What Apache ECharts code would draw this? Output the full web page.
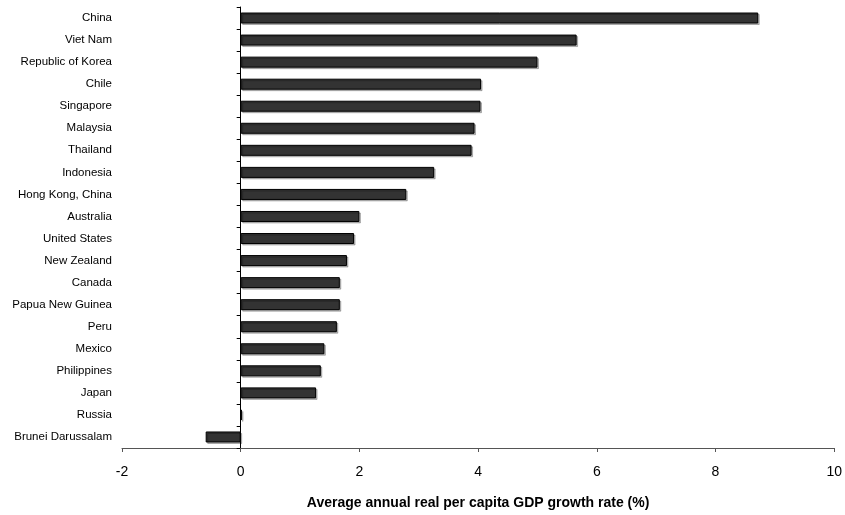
<!DOCTYPE html>
<html><head><meta charset="utf-8">
<script src="https://cdn.jsdelivr.net/npm/echarts@6/dist/echarts.min.js"></script>
<style>html,body{margin:0;padding:0;background:#fff}#c{width:845px;height:515px}</style>
</head><body><div id="c"></div>
<script>
const economies = ["China","Viet Nam","Republic of Korea","Chile","Singapore","Malaysia","Thailand","Indonesia","Hong Kong, China","Australia","United States","New Zealand","Canada","Papua New Guinea","Peru","Mexico","Philippines","Japan","Russia","Brunei Darussalam"];
const growth = [8.72,5.66,5.00,4.05,4.04,3.94,3.89,3.26,2.79,2.00,1.91,1.79,1.67,1.67,1.62,1.41,1.35,1.27,0.02,-0.59];
const xTicks = {min:-2,max:10,interval:2};
const xTitle = "Average annual real per capita GDP growth rate (%)";

const chart = echarts.init(document.getElementById('c'), null, {renderer:'canvas'});
chart.setOption({
  animation:false,
  grid:{left:122,right:5,top:7,bottom:64,containLabel:false},
  xAxis:{type:'value',min:xTicks.min,max:xTicks.max,interval:xTicks.interval,
    name:xTitle,nameLocation:'middle',nameGap:48,
    nameTextStyle:{fontFamily:'Liberation Sans, Arial',fontSize:14,fontWeight:'bold',color:'#000'},
    axisLine:{show:true,onZero:false,lineStyle:{color:'#555',width:1}},
    axisTick:{show:true,length:4,lineStyle:{color:'#555'}},
    axisLabel:{fontFamily:'Liberation Sans, Arial',fontSize:14,color:'#000',margin:17},
    splitLine:{show:false}},
  yAxis:[
    {type:'category',data:economies,inverse:true,position:'left',
     axisLine:{show:false,onZero:false},axisTick:{show:false},
     axisLabel:{fontFamily:'Liberation Sans, Arial',fontSize:11.5,color:'#000',margin:10}},
    {type:'category',data:economies,inverse:true,position:'left',
     axisLine:{show:true,onZero:true,lineStyle:{color:'#000',width:1}},
     axisTick:{show:true,length:4,inside:false,lineStyle:{color:'#000'}},
     axisLabel:{show:false}}
  ],
  series:[{type:'bar',yAxisIndex:0,data:growth,barWidth:11,
    itemStyle:{color:'#333333',borderColor:'#000',borderWidth:1,
      shadowColor:'rgba(0,0,0,0.25)',shadowOffsetX:1.5,shadowOffsetY:1.5,shadowBlur:0}}]
});
</script></body></html>
